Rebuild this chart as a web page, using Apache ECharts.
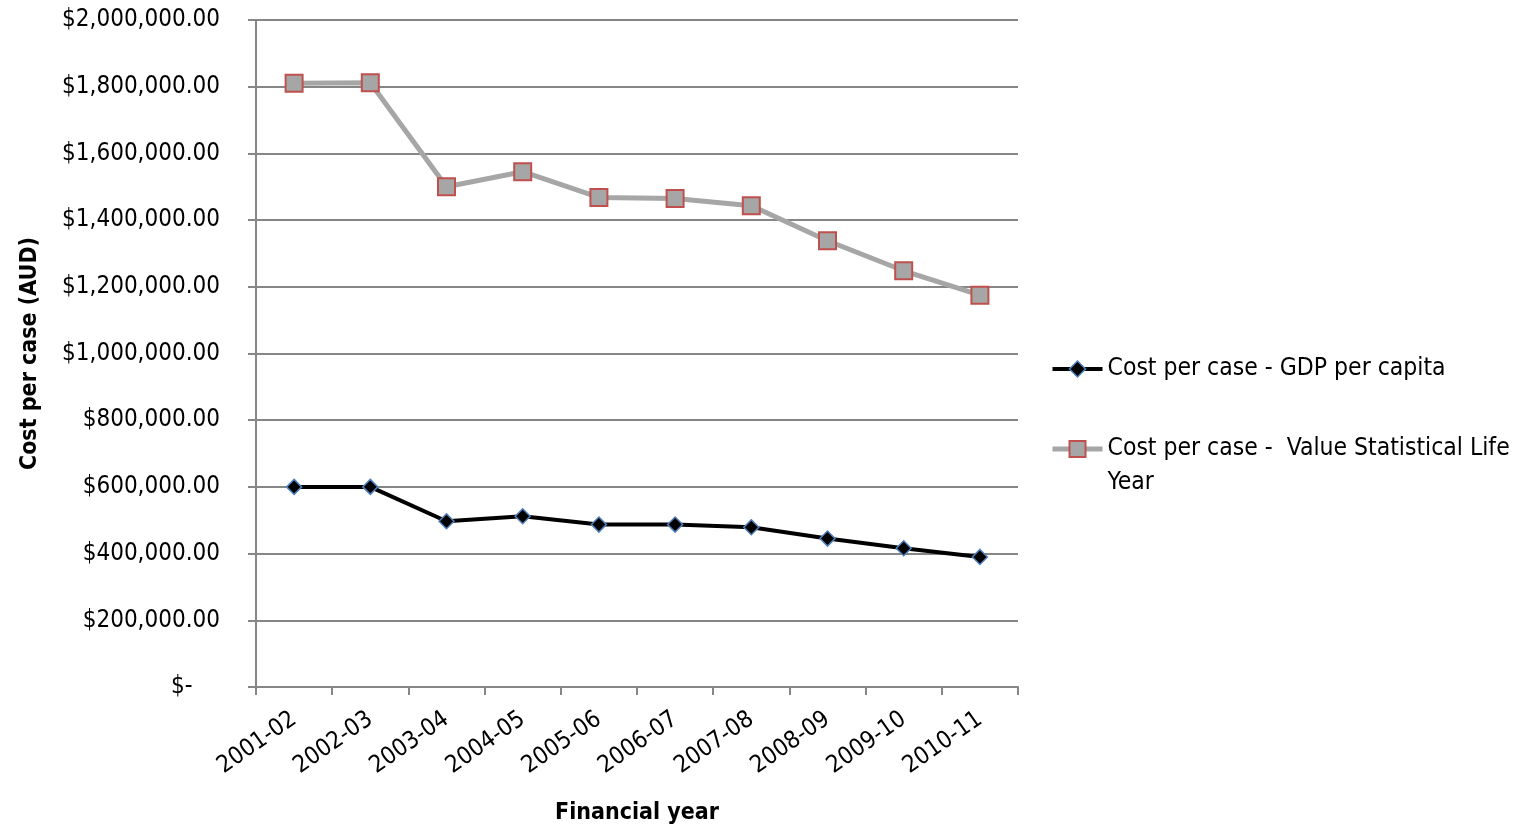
<!DOCTYPE html>
<html>
<head>
<meta charset="utf-8">
<script src="https://cdn.jsdelivr.net/npm/echarts@6/dist/echarts.min.js"></script>
<style>html,body{margin:0;padding:0;background:#fff}#c{width:1540px;height:824px}</style>
</head>
<body>
<div id="c"></div>
<script>
const categories = ['2001-02','2002-03','2003-04','2004-05','2005-06','2006-07','2007-08','2008-09','2009-10','2010-11'];
const gdpValues = [600000, 600000, 497000, 512000, 487000, 487000, 479000, 445000, 416000, 390000];
const vslyValues = [1810000, 1812000, 1500000, 1545000, 1468000, 1465000, 1443000, 1338000, 1248000, 1175000];
const gdpName = 'Cost per case - GDP per capita';
const vslyName = 'Cost per case -  Value Statistical Life Year';

const FONT = "'Liberation Sans Narrow', 'Arial Narrow', 'DejaVu Sans Condensed', sans-serif";
const chart = echarts.init(document.getElementById('c'));
function fmt(v){
  if (v === 0) return '$-    ';
  return '$' + v.toLocaleString('en-US', {minimumFractionDigits:2, maximumFractionDigits:2});
}
chart.setOption({
  animation: false,
  textStyle: {fontFamily: FONT},
  grid: {left: 256, right: 522, top: 20, bottom: 137, containLabel: false, outerBoundsMode: 'none'},
  legend: {
    orient: 'vertical',
    left: 1050,
    top: 352,
    padding: 0,
    itemWidth: 50,
    itemHeight: 20,
    itemGap: 12,
    data: [
      {name: gdpName, lineStyle: {width: 4, color: '#000'}, itemStyle: {color: '#000', borderColor: '#4F81BD', borderWidth: 1.5}},
      {name: vslyName, lineStyle: {width: 5, color: '#A6A6A6'}, itemStyle: {color: '#A6A6A6', borderColor: '#C0504D', borderWidth: 2}}
    ],
    formatter: function(name){
      if (name === vslyName) return '\nCost per case -  Value Statistical Life\nYear';
      return name;
    },
    textStyle: {fontFamily: FONT, fontSize: 24.5, color: '#000', lineHeight: 34}
  },
  xAxis: {
    type: 'category',
    data: categories,
    boundaryGap: true,
    name: 'Financial year',
    nameLocation: 'middle',
    nameGap: 115,
    nameTextStyle: {fontFamily: FONT, fontSize: 23, fontWeight: 'bold', color: '#000'},
    axisLine: {lineStyle: {color: '#868686', width: 2}},
    axisTick: {show: true, length: 8, alignWithLabel: false, lineStyle: {color: '#868686', width: 2}},
    axisLabel: {rotate: 35, fontSize: 24, color: '#000', margin: 30, interval: 0, fontFamily: FONT},
    splitLine: {show: false}
  },
  yAxis: {
    type: 'value',
    min: 0,
    max: 2000000,
    interval: 200000,
    name: 'Cost per case (AUD)',
    nameLocation: 'middle',
    nameGap: 214,
    nameTextStyle: {fontFamily: FONT, fontSize: 23, fontWeight: 'bold', color: '#000'},
    axisLine: {show: true, lineStyle: {color: '#868686', width: 2}},
    axisTick: {show: true, length: 8, lineStyle: {color: '#868686', width: 2}},
    axisLabel: {formatter: fmt, fontSize: 24, color: '#000', margin: 36, fontFamily: FONT},
    splitLine: {show: true, lineStyle: {color: '#868686', width: 2}}
  },
  series: [
    {
      name: gdpName,
      type: 'line',
      data: gdpValues,
      symbol: 'diamond',
      symbolSize: 15,
      lineStyle: {color: '#000', width: 4},
      itemStyle: {color: '#000', borderColor: '#4F81BD', borderWidth: 1.5},
      z: 3
    },
    {
      name: vslyName,
      type: 'line',
      data: vslyValues,
      symbol: 'rect',
      symbolSize: 17,
      lineStyle: {color: '#A6A6A6', width: 5},
      itemStyle: {color: '#A6A6A6', borderColor: '#C0504D', borderWidth: 2},
      z: 2
    }
  ]
});
</script>
</body>
</html>
